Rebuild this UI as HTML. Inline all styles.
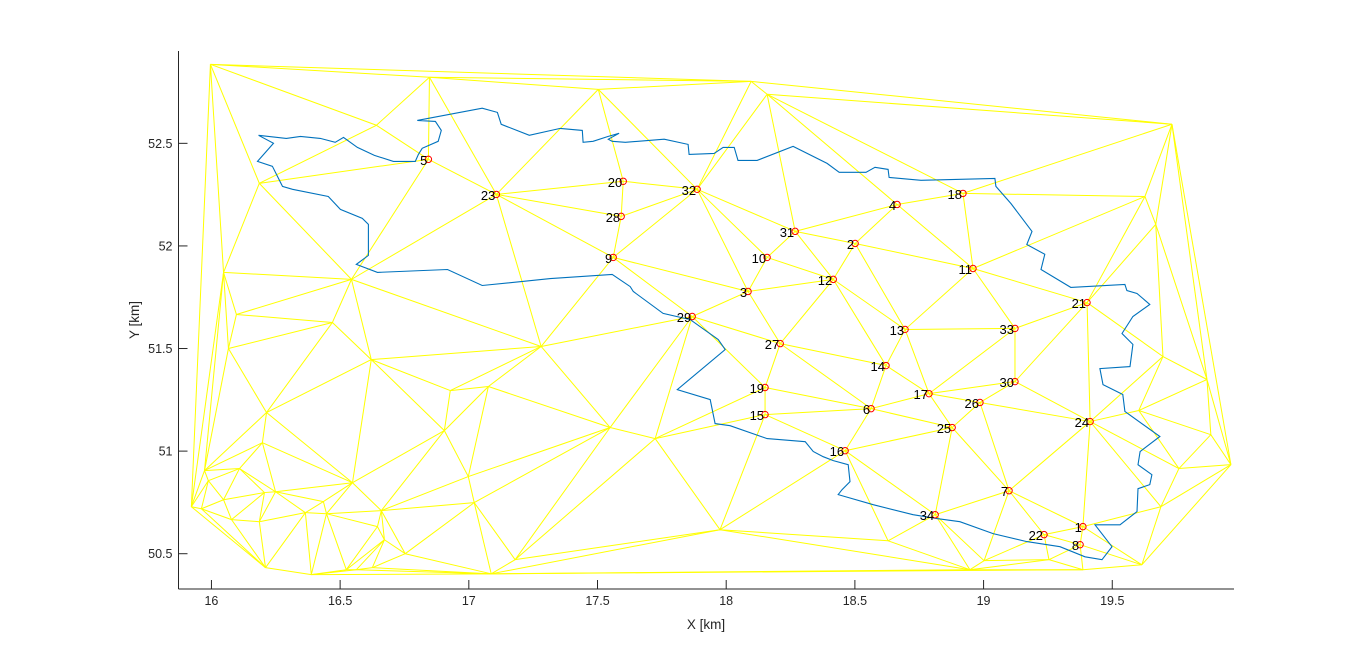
<!DOCTYPE html>
<html><head><meta charset="utf-8"><style>
html,body{margin:0;padding:0;background:#fff;}
svg{display:block;font-family:"Liberation Sans",Arial,sans-serif;}
</style></head><body>
<svg id="chart" width="1366" height="662" viewBox="0 0 1366 662" xmlns="http://www.w3.org/2000/svg">
<rect width="1366" height="662" fill="#fff"/>
<g id="mesh"></g>
<g id="boundary"></g>
<g id="nodes"></g>
<g id="axes"></g>
</svg>
<script>
// Station data (km)
const stationX = [19.386,18.501,18.085,18.664,16.843,18.563,19.099,19.375,17.561,18.159,18.959,18.416,18.695,18.621,18.151,18.462,18.788,18.920,18.151,17.600,19.402,19.235,17.107,19.414,18.878,18.986,18.210,17.592,17.868,19.122,18.268,17.887,19.122,18.812];
const stationY = [50.632,52.012,51.778,52.202,52.422,51.207,50.807,50.544,51.944,51.944,51.890,51.837,51.593,51.417,51.178,51.002,51.280,52.256,51.310,52.315,51.724,50.593,52.251,51.144,51.115,51.237,51.524,52.144,51.656,51.339,52.071,52.276,51.598,50.690];
// Additional mesh vertices
const meshX = [15.996,16.847,17.503,18.097,18.159,16.641,16.186,16.047,16.544,16.097,16.470,16.066,16.621,17.281,16.928,17.076,16.214,16.905,17.549,17.724,16.198,15.973,16.109,15.988,15.922,15.961,16.047,16.078,16.206,16.249,16.186,16.365,16.435,16.548,16.998,17.021,16.447,16.660,16.645,16.672,16.753,17.180,16.210,16.388,16.524,16.563,16.625,17.087,19.732,19.627,19.669,19.697,19.868,19.603,19.883,19.759,19.961,19.689,19.615,19.386,17.976,18.629,18.947,19.002,19.254];
const meshY = [52.885,52.822,52.763,52.802,52.739,52.588,52.305,51.871,51.837,51.666,51.627,51.500,51.446,51.510,51.295,51.315,51.188,51.100,51.115,51.061,51.041,50.905,50.915,50.856,50.729,50.719,50.763,50.666,50.798,50.802,50.656,50.700,50.754,50.846,50.876,50.749,50.695,50.710,50.632,50.568,50.500,50.471,50.432,50.398,50.422,50.422,50.432,50.402,52.593,52.241,52.105,51.461,51.349,51.198,51.080,50.915,50.934,50.729,50.446,50.422,50.617,50.563,50.422,50.466,50.471];
// Boundary outline
const borderX = [16.183,16.291,16.346,16.423,16.481,16.513,16.567,16.633,16.707,16.792,16.804,16.819,16.881,16.893,16.870,16.800,17.052,17.111,17.126,17.235,17.355,17.441,17.444,17.483,17.542,17.584,17.542,17.557,17.608,17.759,17.852,17.856,17.953,17.988,18.031,18.046,18.120,18.260,18.392,18.439,18.543,18.578,18.629,18.633,18.757,19.044,19.048,19.106,19.188,19.168,19.238,19.223,19.339,19.549,19.557,19.596,19.646,19.580,19.538,19.580,19.569,19.452,19.464,19.541,19.549,19.685,19.608,19.600,19.654,19.646,19.600,19.596,19.530,19.433,19.499,19.460,19.394,19.297,19.168,19.037,18.908,18.819,18.726,18.571,18.435,18.450,18.481,18.474,18.416,18.377,18.338,18.307,18.159,18.015,17.957,17.938,17.810,17.996,17.969,17.860,17.755,17.639,17.627,17.557,17.317,17.052,16.917,16.645,16.563,16.610,16.610,16.586,16.501,16.454,16.315,16.276,16.237,16.179,16.241,16.183];
const borderY = [52.539,52.524,52.534,52.524,52.505,52.529,52.480,52.441,52.412,52.412,52.446,52.476,52.510,52.563,52.607,52.612,52.671,52.651,52.593,52.539,52.573,52.563,52.505,52.510,52.534,52.549,52.520,52.510,52.505,52.520,52.495,52.446,52.451,52.480,52.480,52.417,52.417,52.485,52.402,52.359,52.359,52.383,52.373,52.334,52.320,52.329,52.290,52.207,52.071,52.007,51.959,51.885,51.798,51.812,51.783,51.768,51.715,51.656,51.573,51.520,51.412,51.402,51.324,51.276,51.193,51.071,50.998,50.934,50.885,50.837,50.817,50.705,50.641,50.641,50.534,50.471,50.485,50.534,50.559,50.598,50.656,50.671,50.690,50.739,50.788,50.812,50.851,50.934,50.954,50.973,50.998,51.046,51.061,51.124,51.134,51.251,51.300,51.495,51.544,51.641,51.671,51.778,51.802,51.861,51.841,51.807,51.885,51.871,51.910,51.954,52.105,52.134,52.178,52.241,52.276,52.290,52.388,52.412,52.500,52.539];
const xTicks = [16,16.5,17,17.5,18,18.5,19,19.5];
const xTickLabels = ["16","16.5","17","17.5","18","18.5","19","19.5"];
const yTicks = [50.5,51,51.5,52,52.5];
const yTickLabels = ["50.5","51","51.5","52","52.5"];

const NS="http://www.w3.org/2000/svg";
const X0=178.5, X1=1234, Y0=51, Y1=589;
const xmin=15.872, xmax=19.973, ymin=50.328, ymax=52.95;
function sx(v){return X0+(v-xmin)/(xmax-xmin)*(X1-X0);}
function sy(v){return Y1-(v-ymin)/(ymax-ymin)*(Y1-Y0);}
function mk(tag,attrs,parent){const e=document.createElementNS(NS,tag);for(const k in attrs)e.setAttribute(k,attrs[k]);parent.appendChild(e);return e;}

// Delaunay (Bowyer-Watson) in data units
const P=[];
for(let i=0;i<stationX.length;i++)P.push([stationX[i],stationY[i]]);
for(let i=0;i<meshX.length;i++)P.push([meshX[i],meshY[i]]);
function circ(a,b,c){const ax=a[0],ay=a[1],bx=b[0],by=b[1],cx=c[0],cy=c[1];
 const d=2*(ax*(by-cy)+bx*(cy-ay)+cx*(ay-by));
 const ux=((ax*ax+ay*ay)*(by-cy)+(bx*bx+by*by)*(cy-ay)+(cx*cx+cy*cy)*(ay-by))/d;
 const uy=((ax*ax+ay*ay)*(cx-bx)+(bx*bx+by*by)*(ax-cx)+(cx*cx+cy*cy)*(bx-ax))/d;
 return [ux,uy,(ax-ux)*(ax-ux)+(ay-uy)*(ay-uy)];}
const pts=P.slice();
const n=pts.length;
pts.push([18-1000,51.5-1000],[18+1000,51.5-1000],[18,51.5+1000]);
let tris=[[n,n+1,n+2]];tris.forEach(t=>t.c=circ(pts[t[0]],pts[t[1]],pts[t[2]]));
for(let i=0;i<n;i++){const p=pts[i];const bad=[],keep=[];
 for(const t of tris){const dx=p[0]-t.c[0],dy=p[1]-t.c[1];(dx*dx+dy*dy<t.c[2]?bad:keep).push(t);}
 const edges={};
 for(const t of bad){for(const [a,b] of [[t[0],t[1]],[t[1],t[2]],[t[2],t[0]]]){const k=a<b?a+'_'+b:b+'_'+a;edges[k]=edges[k]?null:[a,b];}}
 tris=keep;
 for(const k in edges){const e=edges[k];if(!e)continue;const t=[e[0],e[1],i];t.c=circ(pts[t[0]],pts[t[1]],pts[t[2]]);tris.push(t);}
}
const mesh=document.getElementById('mesh');
const seen={};
for(const t of tris){if(t[0]>=n||t[1]>=n||t[2]>=n)continue;
 for(const [a,b] of [[t[0],t[1]],[t[1],t[2]],[t[2],t[0]]]){const k=a<b?a+'_'+b:b+'_'+a;if(seen[k])continue;seen[k]=1;
  const l=mk('line',{x1:sx(pts[a][0]),y1:sy(pts[a][1]),x2:sx(pts[b][0]),y2:sy(pts[b][1]),stroke:'#ffff00','stroke-width':1},mesh);
  
  
 }}

// boundary
const bd=document.getElementById('boundary');
let d='';for(let i=0;i<borderX.length;i++)d+=(i?'L':'M')+sx(borderX[i]).toFixed(1)+' '+sy(borderY[i]).toFixed(1);
const bp=mk('path',{d:d,fill:'none',stroke:'#0072bd','stroke-width':1.1},bd);



// nodes
const nd=document.getElementById('nodes');
for(let i=0;i<stationX.length;i++){const cx=sx(stationX[i]),cy=sy(stationY[i]);
 const c=mk('circle',{cx:cx,cy:cy,r:3.2,fill:'none',stroke:'#ff0000','stroke-width':1},nd);
 
 
 const t=mk('text',{x:cx-1,y:cy+5.5,'text-anchor':'end','font-size':13,fill:'#000'},nd);
 t.textContent=String(i+1);
 
 
}

// axes
const ax=document.getElementById('axes');
const yl=mk('line',{x1:X0,y1:Y0,x2:X0,y2:Y1,stroke:'#262626','stroke-width':1},ax);


const xl=mk('line',{x1:X0,y1:Y1,x2:X1,y2:Y1,stroke:'#262626','stroke-width':1},ax);


xTicks.forEach((v,i)=>{const x=sx(v);
 const tk=mk('line',{x1:x,y1:Y1,x2:x,y2:Y1-9,stroke:'#262626','stroke-width':1},ax);
 
 
 const tl=mk('text',{x:x,y:Y1+16,'text-anchor':'middle','font-size':12.5,fill:'#262626'},ax);
 tl.textContent=xTickLabels[i];
 
 
});
yTicks.forEach((v,i)=>{const y=sy(v);
 const tk=mk('line',{x1:X0,y1:y,x2:X0+9,y2:y,stroke:'#262626','stroke-width':1},ax);
 
 
 const tl=mk('text',{x:X0-6,y:y+4.5,'text-anchor':'end','font-size':12.5,fill:'#262626'},ax);
 tl.textContent=yTickLabels[i];
 
 
});
const xt=mk('text',{x:706,y:629,'text-anchor':'middle','font-size':13.5,fill:'#262626'},ax);
xt.textContent='X [km]';


const yt=mk('text',{x:0,y:0,'text-anchor':'middle','font-size':13.5,fill:'#262626',transform:'translate(139,320) rotate(-90)'},ax);
yt.textContent='Y [km]';


</script>
</body></html>
